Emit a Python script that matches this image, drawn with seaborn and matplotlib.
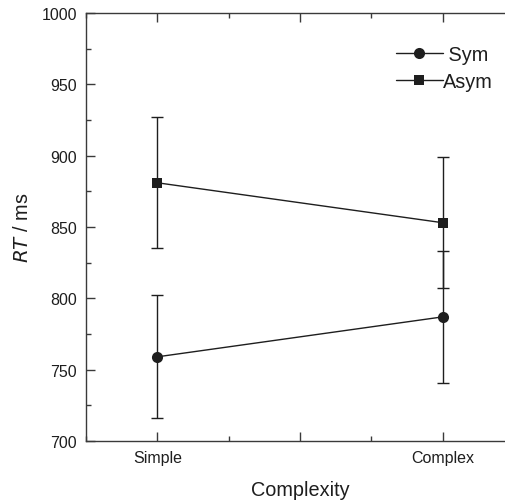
import matplotlib
matplotlib.use("Agg")
import matplotlib.pyplot as plt
from matplotlib.ticker import MultipleLocator
import seaborn as sns
import pandas as pd

categories = ["Simple", "Complex"]
conditions = ["Sym", "Asym"]
sym_rt = [759, 787]
sym_err = [43, 46]
asym_rt = [881, 853]
asym_err = [46, 46]

sns.set_theme(style="ticks")
plt.rcParams["font.family"] = ["Liberation Sans", "DejaVu Sans"]

rows = []
for cond, vals, errs in [("Sym", sym_rt, sym_err), ("Asym", asym_rt, asym_err)]:
    for i, (cat, v, e) in enumerate(zip(categories, vals, errs)):
        rows.append({"cond": cond, "Complexity": cat, "pos": i + 1, "rt": v, "err": e})
df = pd.DataFrame(rows)

ink = "#1e1e1e"
fig = plt.figure(figsize=(5.06, 5.02), dpi=100)
ax = fig.add_axes([86 / 506, 60 / 502, 428 / 506, 428 / 502])

sns.lineplot(data=df, x="pos", y="rt", hue="cond", style="cond",
             hue_order=conditions, style_order=conditions,
             palette={"Sym": ink, "Asym": ink},
             markers={"Sym": "o", "Asym": "s"}, dashes=False,
             markersize=8, linewidth=1.0, markeredgewidth=0,
             ax=ax, legend=True)
for ln in ax.lines:
    if ln.get_marker() == "s":
        ln.set_markersize(6.8)
for cond in conditions:
    d = df[df["cond"] == cond]
    ax.errorbar(d["pos"], d["rt"], yerr=d["err"], fmt="none", ecolor=ink,
                elinewidth=1.0, capsize=4.5, capthick=1.0)

ax.set_xlim(0.75, 2.25)
ax.set_ylim(700, 1000)
ax.xaxis.set_minor_locator(MultipleLocator(0.25))
ax.yaxis.set_major_locator(MultipleLocator(50))
ax.yaxis.set_minor_locator(MultipleLocator(25))
ax.set_xticks([1, 1.5, 2])
ax.set_xticklabels(["Simple", "", "Complex"])

for s in ax.spines.values():
    s.set_visible(True)
    s.set_color("#3a3a3a")
    s.set_linewidth(1.0)
ax.tick_params(which="both", direction="in", top=True, right=True,
               color="#3a3a3a", width=1.0, labelcolor=ink)
ax.tick_params(which="major", length=6.5, labelsize=11.5, pad=6.5)
ax.tick_params(which="minor", length=3.4)

ax.set_xlabel("Complexity", fontsize=14.3, color=ink, labelpad=11)
ax.set_ylabel(r"$\it{RT}$ / ms", fontsize=14.3, color=ink, labelpad=7)

handles, labels = ax.get_legend_handles_labels()
hmap = dict(zip(labels, handles))
for lab, h in hmap.items():
    if h.get_marker() == "s":
        h.set_markersize(6.8)
leg = ax.legend([hmap["Sym"], hmap["Asym"]], [" Sym", "Asym"],
                frameon=False, fontsize=14.3, handlelength=2.35,
                handletextpad=0.0, borderpad=0, borderaxespad=0,
                labelspacing=0.42, loc="upper left",
                bbox_to_anchor=(396 / 506, (502 - 46) / 502),
                bbox_transform=fig.transFigure)
for t in leg.get_texts():
    t.set_color(ink)

fig.savefig("out.png", dpi=100)
